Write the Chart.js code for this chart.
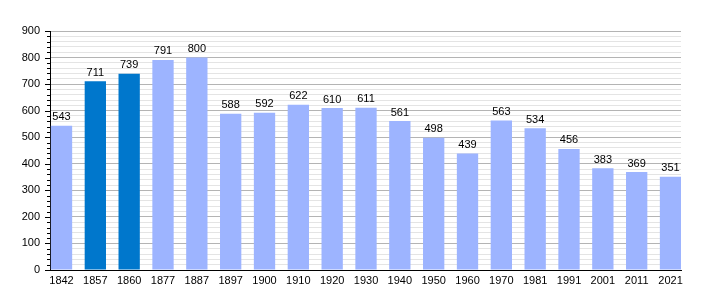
<html>
<head>
<script src="https://cdn.jsdelivr.net/npm/chart.js"></script>
<style>
  body { margin: 0; background: #fff; }
</style>
</head>
<body>
<canvas id="myChart" width="710" height="300"></canvas>
<script>
const years = ["1842","1857","1860","1877","1887","1897","1900","1910","1920","1930","1940","1950","1960","1970","1981","1991","2001","2011","2021"];
const population = [543,711,739,791,800,588,592,622,610,611,561,498,439,563,534,456,383,369,351];
const darkYears = ["1857","1860"];

const light = "#9db4ff";
const dark = "#0077cc";

// value above each bar + small tick marks on the y axis
const extras = {
  id: "extras",
  afterDatasetsDraw(chart) {
    const ctx = chart.ctx;
    const meta = chart.getDatasetMeta(0);
    ctx.save();
    ctx.font = "11px 'Liberation Sans', Arial, sans-serif";
    ctx.fillStyle = "#000";
    ctx.textAlign = "center";
    ctx.textBaseline = "bottom";
    meta.data.forEach((bar, i) => {
      ctx.fillText(population[i], bar.x, bar.y - 3);
    });
    const y = chart.scales.y;
    const left = chart.chartArea.left;
    ctx.strokeStyle = "#000";
    ctx.lineWidth = 1;
    for (let v = 0; v <= 900; v += 20) {
      const py = Math.round(y.getPixelForValue(v)) + 0.5;
      const len = v % 100 === 0 ? 5 : 3;
      ctx.beginPath();
      ctx.moveTo(left - len, py);
      ctx.lineTo(left, py);
      ctx.stroke();
    }
    ctx.restore();
  }
};

new Chart(document.getElementById("myChart"), {
  type: "bar",
  data: {
    datasets: [{
      data: population.map((v, i) => ({ x: i, y: v })),
      backgroundColor: years.map(y => darkYears.includes(y) ? dark : light),
      barPercentage: 0.63,
      categoryPercentage: 1.0
    }]
  },
  options: {
    responsive: false,
    animation: false,
    layout: { padding: { top: 31, right: 29, left: 0, bottom: 0 } },
    plugins: { legend: { display: false }, tooltip: { enabled: false } },
    scales: {
      x: {
        type: "linear",
        min: -0.34,
        max: 18.31,
        offset: false,
        grid: { display: false, drawTicks: false },
        border: { color: "#000", width: 1 },
        afterBuildTicks(s) { s.ticks = years.map((_, i) => ({ value: i })); },
        ticks: {
          color: "#000",
          padding: 4,
          maxRotation: 0,
          autoSkip: false,
          font: { family: "'Liberation Sans', Arial, sans-serif", size: 11 },
          callback: v => years[v]
        },
        afterFit(s) { s.height = 30; }
      },
      y: {
        min: 0,
        max: 900,
        grid: {
          drawTicks: false,
          color: c => c.tick && c.tick.value % 100 === 0 ? "#b4b4b4" : "#e4e4e4",
          lineWidth: 1
        },
        border: { color: "#000", width: 1 },
        ticks: {
          stepSize: 20,
          autoSkip: false,
          color: "#000",
          padding: 10,
          font: { family: "'Liberation Sans', Arial, sans-serif", size: 11 },
          callback: v => v % 100 === 0 ? v : ""
        },
        afterFit(s) { s.width = 50; }
      }
    }
  },
  plugins: [extras]
});
</script>
</body>
</html>
